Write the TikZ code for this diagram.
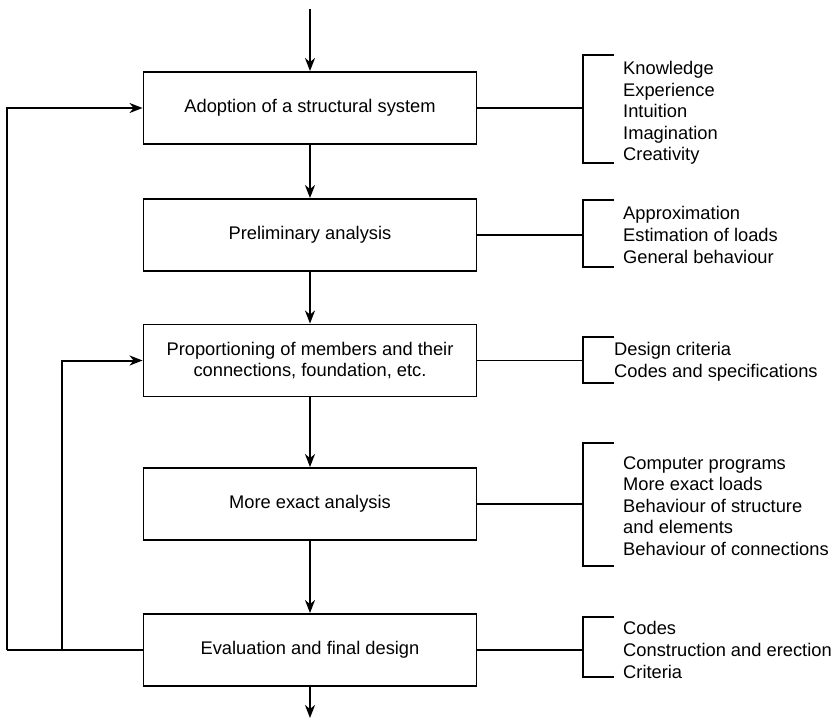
\documentclass[tikz,border=0pt]{standalone}
\usepackage{fontspec}
\setmainfont{Liberation Sans}
\usetikzlibrary{arrows.meta}
\begin{document}
\begin{tikzpicture}[x=1pt,y=-1pt,
  every node/.style={font=\fontsize{18.3}{21.6}\selectfont},
  stagebox/.style={draw,line width=1.9pt,minimum width=333pt,minimum height=72pt,inner sep=0pt,align=center},
  flow/.style={line width=2pt,-{Stealth[length=13pt,width=10pt,inset=4pt]}},
  link/.style={line width=1.7pt},
  bracket/.style={line width=1.9pt},
  listtext/.style={anchor=west,align=left,inner sep=0pt}]
\useasboundingbox (0,0) rectangle (838,718);

\node[stagebox] (b1) at (310,108) {Adoption of a structural system};
\node[stagebox] (b2) at (310,235) {Preliminary analysis};
\node[stagebox] (b3) at (310,360.5) {Proportioning of members and their\\connections, foundation, etc.};
\node[stagebox] (b4) at (310,504) {More exact analysis};
\node[stagebox] (b5) at (310,650) {Evaluation and final design};

\coordinate (top) at (310,9);
\coordinate (bot) at (310,718);
\draw[flow] (top) -- (b1.north);
\draw[flow] (b1) -- (b2);
\draw[flow] (b2) -- (b3);
\draw[flow] (b3) -- (b4);
\draw[flow] (b4) -- (b5);
\draw[flow] (b5) -- (bot);

% feedback loops
\coordinate (fo) at (7,650);
\coordinate (fi) at (62,650);
\draw[link,line width=2pt] (b5.west) -- (fo);
\draw[flow] (fo) |- (b1.west);
\draw[flow] (fi) |- (b3.west);

% brackets
\coordinate (k1) at (583,108);
\coordinate (k2) at (583,235);
\coordinate (k3) at (583,360.5);
\coordinate (k4) at (583,504);
\coordinate (k5) at (583,650);
\draw[link] (b1.east) -- (k1);
\draw[link] (b2.east) -- (k2);
\draw[link] (b3.east) -- (k3);
\draw[link] (b4.east) -- (k4);
\draw[link] (b5.east) -- (k5);
\draw[bracket] (614,55) -- (583,55) -- (583,163) -- (614,163);
\draw[bracket] (614,200) -- (583,200) -- (583,267) -- (614,267);
\draw[bracket] (614,337) -- (583,337) -- (583,383) -- (614,383);
\draw[bracket] (614,443) -- (583,443) -- (583,566) -- (614,566);
\draw[bracket] (614,617) -- (583,617) -- (583,677) -- (614,677);

\node[listtext] (t1) at (623,113) {Knowledge\\Experience\\Intuition\\Imagination\\Creativity};
\node[listtext] (t2) at (623,235) {Approximation\\Estimation of loads\\General behaviour};
\node[listtext] (t3) at (614,362) {Design criteria\\Codes and specifications};
\node[listtext] (t4) at (623,506) {Computer programs\\More exact loads\\Behaviour of structure\\and elements\\Behaviour of connections};
\node[listtext] (t5) at (623,650) {Codes\\Construction and erection\\Criteria};
\end{tikzpicture}
\end{document}
